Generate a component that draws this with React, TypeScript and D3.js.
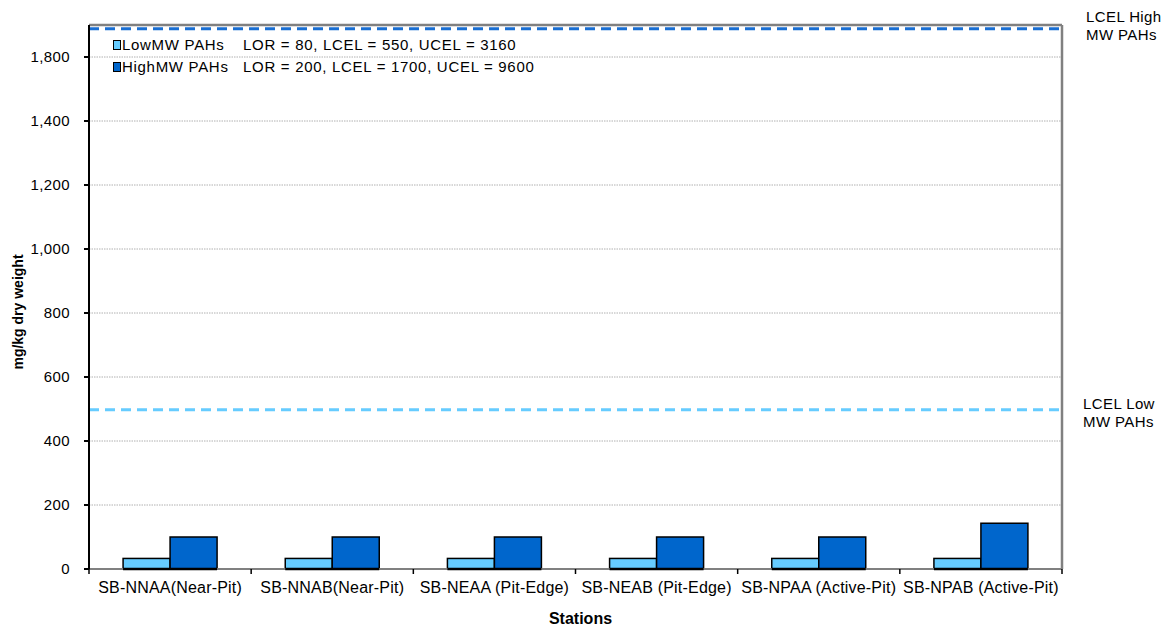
import React from "react";
import * as d3 from "d3";

const stations = [
  "SB-NNAA(Near-Pit)",
  "SB-NNAB(Near-Pit)",
  "SB-NEAA (Pit-Edge)",
  "SB-NEAB (Pit-Edge)",
  "SB-NPAA (Active-Pit)",
  "SB-NPAB (Active-Pit)",
];
const seriesNames = ["LowMW PAHs", "HighMW PAHs"];
const seriesInfo = ["LOR = 80, LCEL = 550, UCEL = 3160", "LOR = 200, LCEL = 1700, UCEL = 9600"];
const lowMW = [33, 33, 33, 33, 33, 33];
const highMW = [100, 100, 100, 100, 100, 143];
const yTickValues = [0, 200, 400, 600, 800, 1000, 1200, 1400, 1600];
const yTickLabels = ["0", "200", "400", "600", "800", "1,000", "1,200", "1,400", "1,800"];
const yMax = 1700;
const refLines = [
  { value: 1688, label: ["LCEL High", "MW PAHs"] },
  { value: 498, label: ["LCEL Low", "MW PAHs"] },
];

const colors = ["#66CCFF", "#0066CC"];
const refColors = ["#1A6FD3", "#66CCFF"];
const FONT = "'Liberation Sans', Arial, sans-serif";

export default function App() {
  const W = 1169, H = 630;
  const left = 89, right = 1062, top = 25, bottom = 569;
  const y = d3.scaleLinear().domain([0, yMax]).range([bottom, top]);
  const x = d3.scaleBand<string>().domain(stations).range([left, right]).paddingInner(0).paddingOuter(0);
  const groupW = 94;
  const sub = d3.scaleBand<number>().domain([0, 1]).range([0, groupW]);
  const series = [lowMW, highMW];

  return (
    <div style={{ position: "absolute", left: 0, top: 0 }}>
      <svg width={W} height={H} style={{ display: "block" }} fontFamily={FONT}>
        <rect x={0} y={0} width={W} height={H} fill="#fff" />
        {/* gridlines */}
        {yTickValues.filter((t) => t > 0).map((t) => (
          <line key={t} x1={left} x2={right} y1={y(t)} y2={y(t)} stroke="#b0b0b0" strokeWidth={1} strokeDasharray="1.5,1" />
        ))}
        {/* plot border top/right */}
        <line x1={left} x2={right} y1={top} y2={top} stroke="#808080" strokeWidth={2.5} />
        <line x1={right} x2={right} y1={top} y2={bottom} stroke="#808080" strokeWidth={2.5} />
        {/* reference lines */}
        {refLines.map((r, i) => (
          <g key={i}>
            <line x1={left} x2={right} y1={y(r.value)} y2={y(r.value)} stroke={refColors[i]} strokeWidth={3} strokeDasharray="10,6" />
            {r.label.map((l, j) => (
              <text key={j} x={i === 0 ? 1086 : 1083} y={(i === 0 ? 22 : 409) + j * 18} fontSize={15} letterSpacing={0.4} fill="#000">{l}</text>
            ))}
          </g>
        ))}
        {/* bars */}
        {stations.map((s, ci) => {
          const gx = (x(s) as number) + x.bandwidth() / 2 - groupW / 2;
          return (
            <g key={s}>
              {series.map((vals, si) => (
                <rect key={si} x={gx + (sub(si) as number)} y={y(vals[ci])} width={sub.bandwidth()} height={bottom - y(vals[ci])}
                  fill={colors[si]} stroke="#000" strokeWidth={1.5} />
              ))}
            </g>
          );
        })}
        {/* x axis */}
        <line x1={left} x2={right} y1={bottom} y2={bottom} stroke="#808080" strokeWidth={2} />
        {stations.map((s) => {
          const gx = (x(s) as number) + x.bandwidth() / 2 - groupW / 2;
          return <line key={s} x1={gx} x2={gx + groupW} y1={bottom} y2={bottom} stroke="#000" strokeWidth={2.5} />;
        })}
        {[...stations.map((s) => x(s) as number), right].map((tx, i) => (
          <line key={i} x1={tx} x2={tx} y1={bottom} y2={bottom + 5} stroke="#000" strokeWidth={1.5} />
        ))}
        {stations.map((s) => (
          <text key={s} x={(x(s) as number) + x.bandwidth() / 2} y={593} fontSize={16} letterSpacing={0.2} textAnchor="middle" fill="#000">{s}</text>
        ))}
        <text x={(left + right) / 2 + 5} y={624} fontSize={16} fontWeight="bold" textAnchor="middle">Stations</text>
        {/* y axis */}
        <line x1={left} x2={left} y1={top} y2={bottom} stroke="#000" strokeWidth={2} />
        {yTickValues.map((t, i) => (
          <g key={t}>
            <line x1={left - 5} x2={left} y1={y(t)} y2={y(t)} stroke="#000" strokeWidth={2} />
            <text x={70} y={y(t) + 5} fontSize={15} letterSpacing={0.4} textAnchor="end" fill="#000">{yTickLabels[i]}</text>
          </g>
        ))}
        <text transform={`translate(23,${(top + bottom) / 2 + 15}) rotate(-90)`} fontSize={14} fontWeight="bold" textAnchor="middle">mg/kg dry weight</text>
        {/* legend */}
        {seriesNames.map((n, i) => (
          <g key={n} transform={`translate(0,${45 + i * 22})`}>
            <rect x={113.5} y={-4.5} width={7} height={9} fill={colors[i]} stroke="#000" strokeWidth={1} />
            <text x={122} y={5} fontSize={15} letterSpacing={0.7} fill="#000">{n}</text>
            <text x={243} y={5} fontSize={15} letterSpacing={0.7} fill="#000">{seriesInfo[i]}</text>
          </g>
        ))}
      </svg>
    </div>
  );
}
